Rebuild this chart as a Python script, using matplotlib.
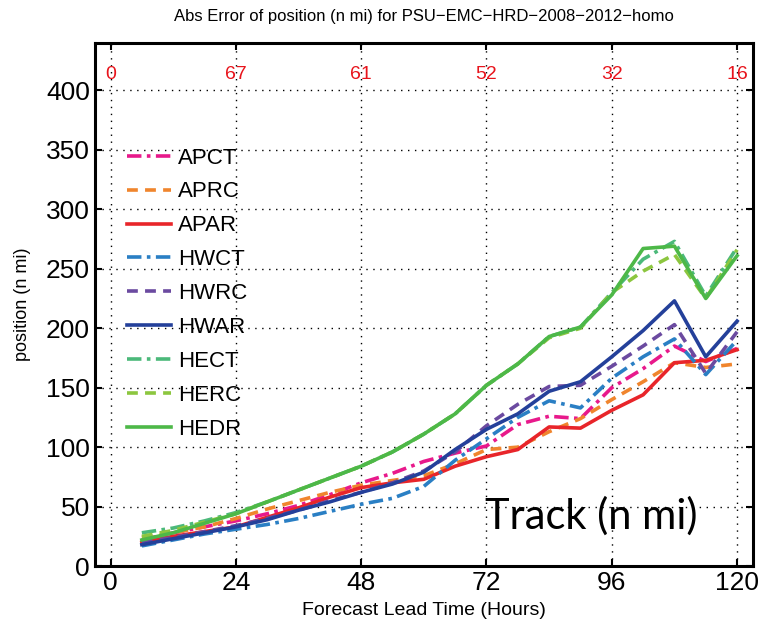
import numpy as np
import matplotlib.pyplot as plt

plt.rcParams['font.family'] = ['Liberation Sans', 'DejaVu Sans']

hours = [6, 12, 18, 24, 30, 36, 42, 48, 54, 60, 66, 72, 78, 84, 90, 96, 102, 108, 114, 120]

apct = [22, 28, 33, 38, 44, 51, 60, 70, 78, 88, 95, 101, 119, 126, 124, 150, 166, 185, 172, 183]
aprc = [24, 28, 33, 40, 48, 55, 62, 68, 72, 76, 86, 98, 100, 113, 124, 140, 155, 171, 167, 170]
apar = [20, 25, 29, 33, 41, 49, 58, 66, 70, 73, 84, 92, 98, 117, 116, 131, 144, 171, 173, 182]
hwct = [17, 22, 27, 31, 35, 40, 46, 52, 57, 67, 89, 107, 125, 139, 133, 158, 176, 191, 161, 190]
hwrc = [20, 24, 29, 34, 40, 47, 55, 62, 70, 80, 96, 118, 136, 151, 152, 168, 185, 203, 162, 197]
hwar = [18, 23, 28, 33, 39, 47, 54, 62, 69, 79, 98, 115, 128, 147, 155, 176, 198, 223, 176, 206]
hect = [28, 32, 38, 45, 54, 64, 74, 84, 96, 111, 128, 152, 170, 193, 201, 230, 258, 273, 227, 268]
herc = [25, 30, 37, 44, 54, 64, 74, 84, 96, 111, 128, 152, 170, 192, 200, 230, 248, 262, 225, 266]
hedr = [22, 28, 36, 44, 54, 64, 74, 84, 96, 111, 128, 152, 170, 193, 201, 228, 267, 269, 225, 261]

case_hours = [0, 24, 48, 72, 96, 120]
case_counts = ['0', '67', '61', '52', '32', '16']

series = [
    ('APCT', apct, '#e8198b', (0, (4, 1.5, 1, 1.5))),
    ('APRC', aprc, '#f0852d', (0, (3, 2))),
    ('APAR', apar, '#e8252a', '-'),
    ('HWCT', hwct, '#2a7fc4', (0, (4, 1.5, 1, 1.5))),
    ('HWRC', hwrc, '#6b4aa0', (0, (3, 2))),
    ('HWAR', hwar, '#24409a', '-'),
    ('HECT', hect, '#4bb97a', (0, (4, 1.5, 1, 1.5))),
    ('HERC', herc, '#8cc63f', (0, (3, 2))),
    ('HEDR', hedr, '#4db848', '-'),
]

fig = plt.figure(figsize=(7.65, 6.29), dpi=100)
ax = fig.add_axes([0.124, 0.1, 0.86, 0.832])

for name, vals, col, ls in series:
    ax.plot(hours, vals, color=col, linestyle=ls, linewidth=2.6, label=name)

ax.set_xlim(-3, 123)
ax.set_ylim(0, 440)
ax.set_xticks(case_hours)
ax.set_yticks(np.arange(0, 401, 50))
ax.tick_params(labelsize=19, direction='in', top=True, right=True, length=5, width=1.5)
ax.grid(True, color='black', linestyle=(0, (1, 4)), linewidth=1)
for s in ax.spines.values():
    s.set_linewidth(2.2)

for h, c in zip(case_hours, case_counts):
    ax.text(h, 413, c, color='#e8141c', fontsize=14, ha='center', va='center')

ax.set_xlabel('Forecast Lead Time (Hours)', fontsize=14, labelpad=5)
ax.set_ylabel('position (n mi)', fontsize=13, labelpad=11)
ax.set_title('Abs Error of position (n mi) for PSU\u2212EMC\u2212HRD\u22122008\u22122012\u2212homo',
             fontsize=12, pad=16)

ax.text(112.5, 42, 'Track (n mi)', fontsize=30, family='Lato', ha='right', va='center')

ax.legend(loc='upper left', bbox_to_anchor=(0.018, 0.838), frameon=False, fontsize=16,
          handlelength=2.0, labelspacing=0.58, handletextpad=0.3)

fig.savefig('out.png', dpi=100)
